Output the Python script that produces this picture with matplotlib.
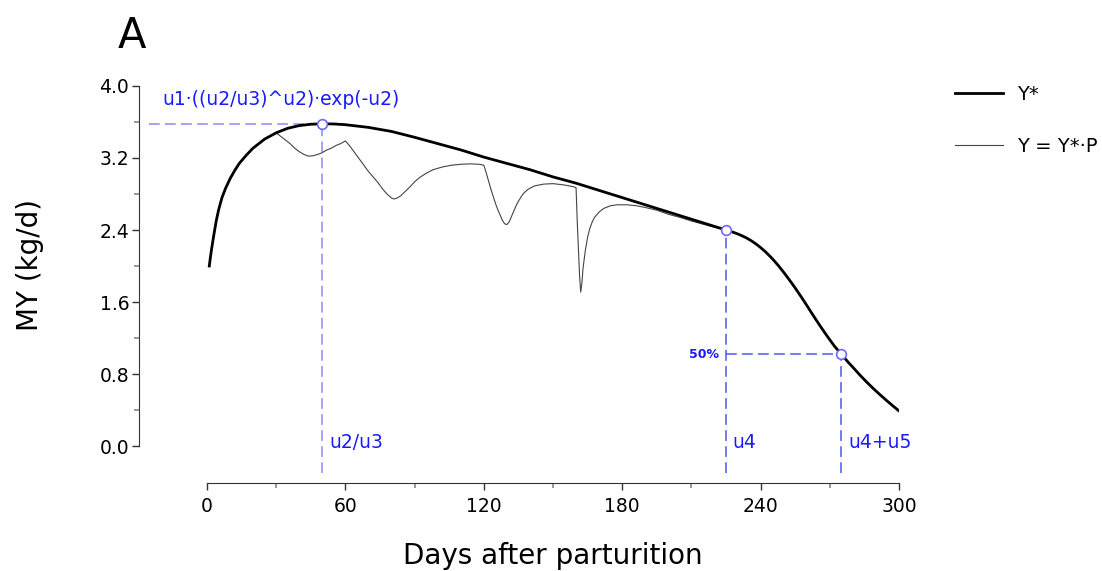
import numpy as np
import matplotlib
matplotlib.use("Agg")
import matplotlib.pyplot as plt
from matplotlib.ticker import MultipleLocator, FormatStrFormatter

# potential milk yield Y*
ystar_days = [1, 1.5, 2, 3, 4, 5, 6.5, 8, 10, 12, 14, 17, 20, 25, 30,
              35, 40, 45, 50, 55, 60, 70, 80, 90, 100, 110, 120, 130,
              140, 150, 160, 170, 180, 190, 200, 210, 220, 225, 226,
              228, 230, 232, 234, 236, 238, 240, 242, 244, 246, 248,
              250, 252, 254, 256, 258, 260, 262, 264, 266, 268, 270,
              272, 274, 275, 276, 278, 280, 283, 286, 289, 292, 295,
              298, 300]
ystar_vals = [2.00, 2.10, 2.19, 2.35, 2.50, 2.62, 2.76, 2.86, 2.97, 3.06,
              3.14, 3.23, 3.31, 3.41, 3.48, 3.53, 3.56, 3.575, 3.58,
              3.578, 3.57, 3.54, 3.495, 3.43, 3.36, 3.29, 3.21, 3.14,
              3.07, 2.99, 2.92, 2.84, 2.76, 2.68, 2.60, 2.52, 2.44, 2.40,
              2.392, 2.376, 2.357, 2.335, 2.31, 2.28, 2.245, 2.205, 2.16,
              2.11, 2.055, 1.995, 1.93, 1.862, 1.792, 1.718, 1.642, 1.563,
              1.483, 1.404, 1.327, 1.252, 1.18, 1.11, 1.05, 1.02, 0.99,
              0.93, 0.875, 0.79, 0.71, 0.635, 0.565, 0.497, 0.432, 0.39]

# perturbed milk yield Y = Y*.P
y_days = [1, 1.5, 2, 3, 4, 5, 6.5, 8, 10, 12, 14, 17, 20, 25, 30,
          32, 34, 36, 38, 40, 42, 44, 46, 48, 50, 52, 54, 56, 58, 60,
          62, 64, 66, 68, 70, 72, 74, 76, 78, 80, 81, 82, 84, 86, 88,
          90, 92, 95, 98, 102, 106, 110, 114, 118, 120,
          121, 122, 123, 124, 125, 126, 127, 128, 129, 130, 131, 132,
          133, 134, 135, 137, 139, 142, 146, 150, 155, 159, 160,
          160.5, 161, 161.5, 162, 162.5, 163, 164, 165, 166, 167, 168,
          170, 172, 175, 178, 182, 186, 190, 195, 200, 205, 210, 215,
          220, 225, 226, 228, 230, 232, 234, 236, 238, 240, 242, 244,
          246, 248, 250, 252, 254, 256, 258, 260, 262, 264, 266, 268,
          270, 272, 274, 275, 276, 278, 280, 283, 286, 289, 292, 295,
          298, 300]
y_vals = [2.00, 2.10, 2.19, 2.35, 2.50, 2.62, 2.76, 2.86, 2.97, 3.06,
          3.14, 3.23, 3.31, 3.41, 3.48,
          3.44, 3.40, 3.36, 3.31, 3.27, 3.24, 3.22, 3.225, 3.24, 3.26,
          3.29, 3.31, 3.34, 3.36, 3.39,
          3.33, 3.26, 3.19, 3.12, 3.05, 2.99, 2.93, 2.86, 2.80, 2.755,
          2.745, 2.75, 2.78, 2.83, 2.88, 2.935, 2.98, 3.03, 3.07, 3.10,
          3.12, 3.13, 3.135, 3.13, 3.12,
          3.04, 2.95, 2.86, 2.78, 2.70, 2.63, 2.57, 2.51, 2.47, 2.46,
          2.49, 2.55, 2.61, 2.67, 2.72, 2.80, 2.85, 2.89, 2.91, 2.915,
          2.90, 2.88, 2.87,
          2.50, 2.20, 1.90, 1.71, 1.80, 1.97, 2.17, 2.32, 2.42, 2.49,
          2.54, 2.60, 2.64, 2.67, 2.68, 2.68, 2.67, 2.65, 2.62, 2.575,
          2.54, 2.50, 2.465, 2.43, 2.40,
          2.392, 2.376, 2.357, 2.335, 2.31, 2.28, 2.245, 2.205, 2.16,
          2.11, 2.055, 1.995, 1.93, 1.862, 1.792, 1.718, 1.642, 1.563,
          1.483, 1.404, 1.327, 1.252, 1.18, 1.11, 1.05, 1.02, 0.99,
          0.93, 0.875, 0.79, 0.71, 0.635, 0.565, 0.497, 0.432, 0.39]

# key points: peak (u2/u3), u4 and u4+u5
key_days = [50, 225, 275]
key_vals = [3.58, 2.40, 1.02]
key_labels = ["u2/u3", "u4", "u4+u5"]

x_ticks = [0, 60, 120, 180, 240, 300]
y_ticks = [0.0, 0.8, 1.6, 2.4, 3.2, 4.0]

LIGHT = "#8a8aff"
DARK = "#4f55f2"
TXT = "#1a1aff"
DASH = (7, 3.5)

fig = plt.figure(figsize=(11.02, 5.71), dpi=100)
ax = fig.add_axes([0.1355, 0.1716, 0.6803, 0.6778])
xmin, ymin = -25, -0.3
ax.set_xlim(xmin, 300)
ax.set_ylim(ymin, 4.0)

ax.plot(y_days, y_vals, color="#444444", lw=0.8, label="Y = Y*·P", zorder=2)
ax.plot(ystar_days, ystar_vals, color="black", lw=2.0, label="Y*", zorder=3)

# guide lines
ax.plot([xmin, key_days[0]], [key_vals[0]] * 2, color=LIGHT, lw=1.1,
        dashes=DASH, zorder=1)
ax.plot([key_days[0]] * 2, [ymin, key_vals[0]], color=LIGHT, lw=1.1,
        dashes=DASH, zorder=1)
for d, v in zip(key_days[1:], key_vals[1:]):
    ax.plot([d, d], [ymin, v], color=DARK, lw=1.1, dashes=DASH, zorder=1)
ax.plot([key_days[1], key_days[2]], [key_vals[2]] * 2, color=DARK, lw=1.1,
        dashes=DASH, zorder=1)
ax.plot(key_days, key_vals, "o", ms=7, mfc="white", mec="#6a6aff", mew=1.2,
        zorder=4)

ax.text(-19.5, 3.85, "u1·((u2/u3)^u2)·exp(-u2)", color=TXT, fontsize=13.5,
        ha="left", va="center")
for d, lab in zip(key_days, key_labels):
    ax.text(d + 2.9, -0.02, lab, color=TXT, fontsize=13.5, ha="left",
            va="baseline")
ax.text(key_days[1] - 3.1, key_vals[2], "50%", color=TXT, fontsize=9,
        fontweight="bold", ha="right", va="center")

# axes styling
for side in ["top", "right"]:
    ax.spines[side].set_visible(False)
for side in ["left", "bottom"]:
    ax.spines[side].set_position(("outward", 7.5))
    ax.spines[side].set_color("#333333")
ax.spines["left"].set_bounds(0, 4.0)
ax.spines["bottom"].set_bounds(0, 300)

ax.set_xticks(x_ticks)
ax.set_yticks(y_ticks)
ax.xaxis.set_minor_locator(MultipleLocator(30))
ax.yaxis.set_minor_locator(MultipleLocator(0.4))
ax.yaxis.set_major_formatter(FormatStrFormatter("%.1f"))
ax.tick_params(which="major", length=5, width=1, color="#333333",
               labelsize=13.5)
ax.tick_params(which="minor", length=3.5, width=1.4, color="#999999")
ax.tick_params(axis="y", pad=2)
ax.tick_params(axis="x", pad=5)

ax.set_ylabel("MY (kg/d)", fontsize=20)
ax.yaxis.set_label_coords(-0.159, 0.537)
ax.yaxis.label.set_verticalalignment("center")
ax.set_xlabel("Days after parturition", fontsize=20)
ax.xaxis.set_label_coords(0.5385, -0.2145)
ax.xaxis.label.set_verticalalignment("center")

handles, labels = ax.get_legend_handles_labels()
ax.legend(handles[::-1], labels[::-1], loc="upper left",
          bbox_to_anchor=(1.064, 1.023), borderaxespad=0, frameon=False,
          fontsize=14, labelspacing=1.7, handlelength=2.5,
          handletextpad=0.7)

fig.text(118 / 1102, 1 - 48 / 571, "A", fontsize=30, ha="left",
         va="baseline")

fig.savefig("out.png", dpi=100)
